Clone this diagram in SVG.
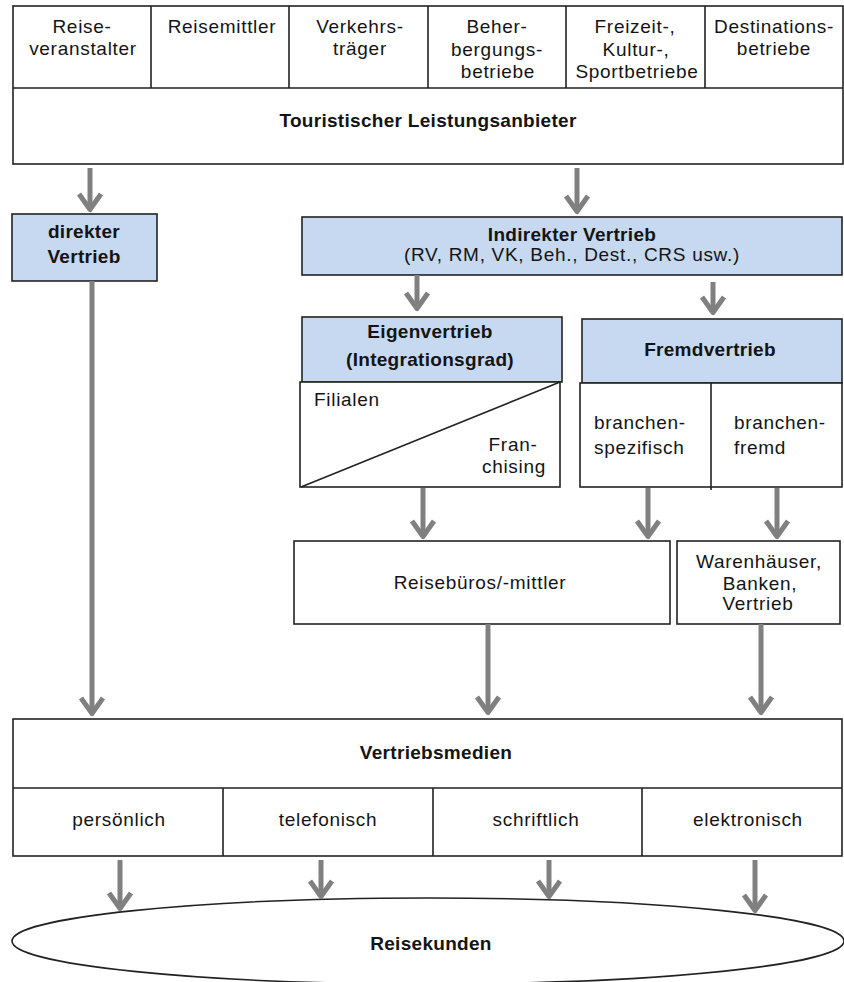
<svg xmlns="http://www.w3.org/2000/svg" width="844" height="982" viewBox="0 0 844 982">
<style>
  .box { fill: #ffffff; stroke: #222222; stroke-width: 1.6; }
  .blue { fill: #c6d9f1; stroke: #222222; stroke-width: 1.6; }
  .sep { stroke: #222222; stroke-width: 1.6; fill: none; }
  .t { font-family: "Liberation Sans", Arial, sans-serif; font-size: 19px; letter-spacing: 0.7px; fill: #141414; text-anchor: middle; }
  .b { font-family: "Liberation Sans", Arial, sans-serif; font-size: 19px; letter-spacing: 0.3px; font-weight: bold; fill: #141414; text-anchor: middle; }
  .l { text-anchor: start; }
  .arrow { stroke: #808080; stroke-width: 5; fill: none; marker-end: url(#chev); }
</style>
<defs>
  <marker id="chev" markerUnits="userSpaceOnUse" orient="auto" viewBox="-24 -16 28 32" refX="-3" refY="0" markerWidth="28" markerHeight="32" overflow="visible">
    <path d="M-18,-11 L-2.5,0 L-18,11" stroke="#808080" stroke-width="5" fill="none" stroke-linejoin="round"/>
  </marker>
</defs>
<rect width="844" height="982" fill="#ffffff"/>

<g id="anbieter">
  <rect class="box" x="13" y="6" width="830" height="158"/>
  <path class="sep" d="M13,88 H843 M151,6 V88 M289,6 V88 M428,6 V88 M566,6 V88 M705,6 V88"/>
  <text class="t" x="82" y="33">Reise-</text>
  <text class="t" x="83" y="55">veranstalter</text>
  <text class="t" x="222" y="33">Reisemittler</text>
  <text class="t" x="360" y="33">Verkehrs-</text>
  <text class="t" x="360" y="55">träger</text>
  <text class="t" x="497" y="33">Beher-</text>
  <text class="t" x="497" y="55.5">bergungs-</text>
  <text class="t" x="498" y="78">betriebe</text>
  <text class="t" x="635" y="33">Freizeit-,</text>
  <text class="t" x="636" y="55.5">Kultur-,</text>
  <text class="t" x="637" y="78">Sportbetriebe</text>
  <text class="t" x="774" y="33">Destinations-</text>
  <text class="t" x="774" y="55">betriebe</text>
  <text class="b" x="428" y="127">Touristischer Leistungsanbieter</text>
</g>

<g id="direkt">
  <rect class="blue" x="12" y="214" width="145" height="67"/>
  <text class="b" x="84" y="238">direkter</text>
  <text class="b" x="84" y="263">Vertrieb</text>
</g>

<g id="indirekt">
  <rect class="blue" x="302" y="217" width="540" height="58"/>
  <text class="b" x="572" y="240.5">Indirekter Vertrieb</text>
  <text class="t" x="572" y="261">(RV, RM, VK, Beh., Dest., CRS usw.)</text>
</g>

<g id="eigenvertrieb">
  <rect class="blue" x="302" y="317" width="260" height="65"/>
  <text class="b" x="430" y="338">Eigenvertrieb</text>
  <text class="b" x="430" y="366">(Integrationsgrad)</text>
  <rect class="box" x="300" y="382" width="260" height="105"/>
  <path class="sep" d="M301,487 L560,382"/>
  <text class="t l" x="314" y="406">Filialen</text>
  <text class="t" x="513" y="450.5">Fran-</text>
  <text class="t" x="514" y="473">chising</text>
</g>

<g id="fremdvertrieb">
  <rect class="blue" x="582" y="319" width="260" height="64"/>
  <text class="b" x="710" y="356">Fremdvertrieb</text>
  <rect class="box" x="580" y="383" width="262" height="104"/>
  <path class="sep" d="M711,383 V490"/>
  <text class="t l" x="594" y="429">branchen-</text>
  <text class="t l" x="594" y="454">spezifisch</text>
  <text class="t l" x="734" y="429">branchen-</text>
  <text class="t l" x="734" y="454">fremd</text>
</g>

<g id="reisebueros">
  <rect class="box" x="294" y="541" width="376" height="83"/>
  <text class="t" x="480" y="589">Reisebüros/-mittler</text>
</g>

<g id="warenhaeuser">
  <rect class="box" x="677" y="541" width="163" height="83"/>
  <text class="t" x="759" y="568">Warenhäuser,</text>
  <text class="t" x="760" y="590">Banken,</text>
  <text class="t" x="758" y="610">Vertrieb</text>
</g>

<g id="vertriebsmedien">
  <rect class="box" x="13" y="719" width="829" height="137"/>
  <path class="sep" d="M13,788 H842 M223,788 V856 M433,788 V856 M642,788 V856"/>
  <text class="b" x="436" y="759">Vertriebsmedien</text>
  <text class="t" x="119" y="826">persönlich</text>
  <text class="t" x="328" y="826">telefonisch</text>
  <text class="t" x="536" y="826">schriftlich</text>
  <text class="t" x="748" y="826">elektronisch</text>
</g>

<g id="reisekunden">
  <ellipse class="box" cx="428" cy="941" rx="416" ry="43"/>
  <text class="b" x="431" y="950">Reisekunden</text>
</g>

<g id="connectors">
  <line class="arrow" x1="90" y1="168" x2="90" y2="209"/>
  <line class="arrow" x1="577" y1="168" x2="577" y2="211"/>
  <line class="arrow" x1="92" y1="281" x2="92" y2="713"/>
  <line class="arrow" x1="417" y1="275" x2="417" y2="308"/>
  <line class="arrow" x1="713" y1="282" x2="713" y2="312"/>
  <line class="arrow" x1="423" y1="488" x2="423" y2="536"/>
  <line class="arrow" x1="648" y1="488" x2="648" y2="536"/>
  <line class="arrow" x1="777" y1="488" x2="777" y2="536"/>
  <line class="arrow" x1="488" y1="624" x2="488" y2="712"/>
  <line class="arrow" x1="761" y1="624" x2="761" y2="712"/>
  <line class="arrow" x1="120" y1="860" x2="120" y2="908"/>
  <line class="arrow" x1="321" y1="860" x2="321" y2="896"/>
  <line class="arrow" x1="549" y1="860" x2="549" y2="896"/>
  <line class="arrow" x1="755" y1="860" x2="755" y2="910"/>
</g>
</svg>
